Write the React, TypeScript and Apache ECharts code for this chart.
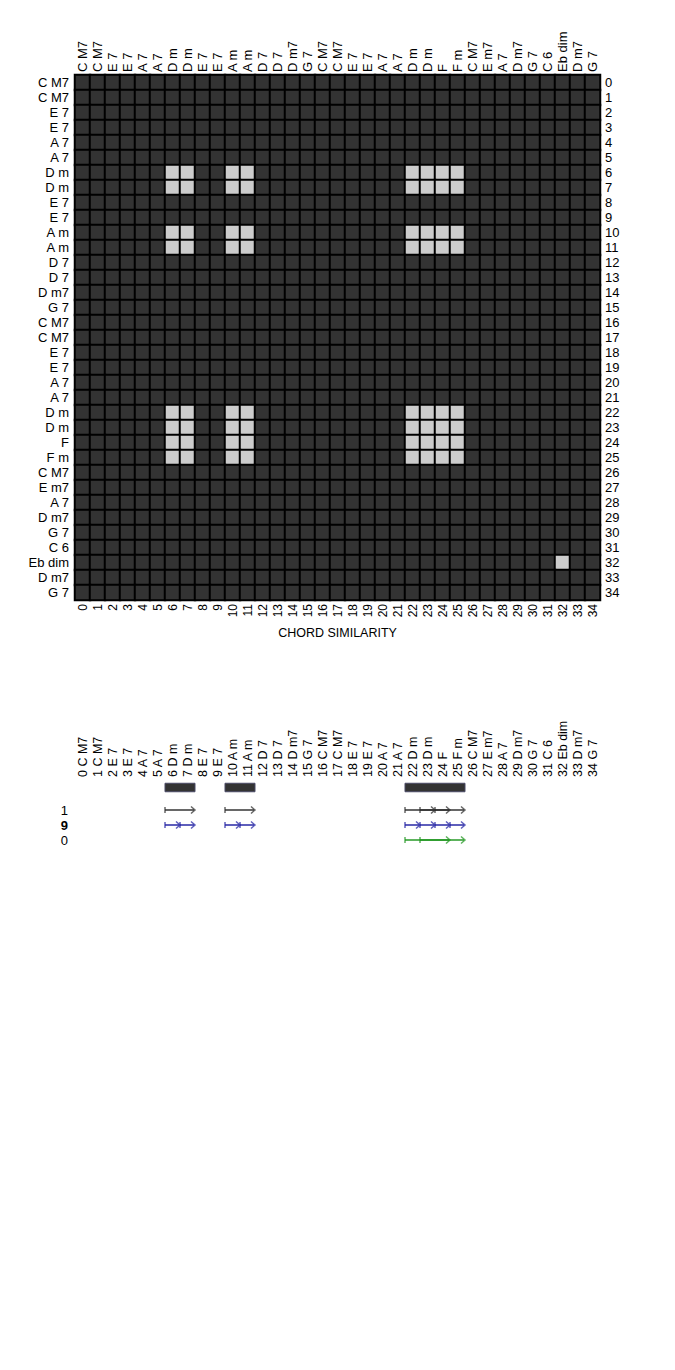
import React, { useEffect, useRef } from "react";
import * as echarts from "echarts";

// ---- data ----
const chords: string[] = [
  "C M7", "C M7", "E 7", "E 7", "A 7", "A 7", "D m", "D m", "E 7", "E 7",
  "A m", "A m", "D 7", "D 7", "D m7", "G 7", "C M7", "C M7", "E 7", "E 7",
  "A 7", "A 7", "D m", "D m", "F", "F m", "C M7", "E m7", "A 7", "D m7",
  "G 7", "C 6", "Eb dim", "D m7", "G 7",
];

const indexLabels: string[] = chords.map((_, i) => String(i));

// similarity matrix: one string per row, 1 = similar (light), 0 = not (dark)
const similarityRows: string[] = [
  "00000000000000000000000000000000000",
  "00000000000000000000000000000000000",
  "00000000000000000000000000000000000",
  "00000000000000000000000000000000000",
  "00000000000000000000000000000000000",
  "00000000000000000000000000000000000",
  "00000011001100000000001111000000000",
  "00000011001100000000001111000000000",
  "00000000000000000000000000000000000",
  "00000000000000000000000000000000000",
  "00000011001100000000001111000000000",
  "00000011001100000000001111000000000",
  "00000000000000000000000000000000000",
  "00000000000000000000000000000000000",
  "00000000000000000000000000000000000",
  "00000000000000000000000000000000000",
  "00000000000000000000000000000000000",
  "00000000000000000000000000000000000",
  "00000000000000000000000000000000000",
  "00000000000000000000000000000000000",
  "00000000000000000000000000000000000",
  "00000000000000000000000000000000000",
  "00000011001100000000001111000000000",
  "00000011001100000000001111000000000",
  "00000011001100000000001111000000000",
  "00000011001100000000001111000000000",
  "00000000000000000000000000000000000",
  "00000000000000000000000000000000000",
  "00000000000000000000000000000000000",
  "00000000000000000000000000000000000",
  "00000000000000000000000000000000000",
  "00000000000000000000000000000000000",
  "00000000000000000000000000000000100",
  "00000000000000000000000000000000000",
  "00000000000000000000000000000000000",
];

// repeated-section bars: [start, end) chord indices
const barSpans: number[][] = [[6, 8], [10, 12], [22, 26]];

// sequence rows
const rowLabels: string[] = ["1", "9", "0"];
const arrowsRow1: number[][] = [[6, 8], [10, 12], [22, 24], [23, 25], [24, 26]];
const arrowsRow9: number[][] = [[6, 7], [7, 8], [10, 11], [11, 12], [22, 23], [23, 24], [24, 25], [25, 26]];
const arrowsRow0: number[][] = [[22, 25], [23, 26]];

const FONT = "'Liberation Sans', Arial, sans-serif";
const ROW_COLORS = ["rgba(45,45,45,0.72)", "rgba(40,40,165,0.75)", "rgba(30,150,30,0.72)"];

export default function App() {
  const ref = useRef<HTMLDivElement>(null);

  useEffect(() => {
    if (!ref.current) return;
    const chart = echarts.init(ref.current, undefined, { renderer: "svg" });

    const heatData: number[][] = [];
    similarityRows.forEach((row, r) => {
      for (let c = 0; c < row.length; c++) heatData.push([c, r, row[c] === "1" ? 1 : 0]);
    });

    const arrowData: number[][] = [];
    [arrowsRow1, arrowsRow9, arrowsRow0].forEach((list, ri) => {
      list.forEach(([s, e]) => arrowData.push([s, e, ri + 2, ri]));
    });

    const barData = barSpans.map(([s, e]) => [s, e, 0.5]);

    const labelBase = { fontFamily: FONT, fontSize: 13, color: "#000" };
    const noAxis = {
      axisLine: { show: false }, axisTick: { show: false }, splitLine: { show: false },
    };

    const option: any = {
      animation: false,
      textStyle: { fontFamily: FONT },
      title: {
        text: "CHORD SIMILARITY",
        left: "center",
        top: 621,
        textStyle: { fontSize: 12.5, fontWeight: "normal", color: "#000", fontFamily: FONT },
      },
      grid: [
        { left: 75, top: 75, width: 525, height: 525 },
        { left: 75, top: 780, width: 525, height: 75 },
      ],
      xAxis: [
        {
          gridIndex: 0, type: "category", data: indexLabels, position: "bottom", ...noAxis,
          axisLabel: { ...labelBase, fontSize: 12, rotate: 90, margin: 4, interval: 0, align: "right", verticalAlign: "middle" },
        },
        {
          gridIndex: 0, type: "category", data: chords, position: "top", ...noAxis,
          axisLabel: { ...labelBase, rotate: -90, margin: 3, interval: 0, align: "left", verticalAlign: "middle" },
        },
        {
          gridIndex: 1, type: "category", data: chords.map((c, i) => i + " " + c), position: "top", ...noAxis,
          axisLabel: { ...labelBase, fontSize: 12.5, rotate: 90, margin: 3, interval: 0, align: "left", verticalAlign: "middle" },
        },
        { gridIndex: 1, type: "value", min: 0, max: 35, show: false },
      ],
      yAxis: [
        {
          gridIndex: 0, type: "category", data: chords, inverse: true, position: "left", ...noAxis,
          axisLabel: { ...labelBase, margin: 6, interval: 0 },
        },
        {
          gridIndex: 0, type: "category", data: indexLabels, inverse: true, position: "right", ...noAxis,
          axisLabel: { ...labelBase, margin: 5, interval: 0 },
        },
        {
          gridIndex: 1, type: "value", min: 0, max: 5, interval: 1, inverse: true, position: "left", ...noAxis,
          axisLabel: {
            ...labelBase, margin: 7,
            formatter: (v: number) => {
              const l = rowLabels[v - 2];
              if (l === undefined) return "";
              return v === 3 ? "{b|" + l + "}" : l;
            },
            rich: { b: { fontFamily: FONT, fontSize: 13, fontWeight: "bold", color: "#000" } },
          },
        },
      ],
      visualMap: {
        show: false, type: "piecewise", seriesIndex: 0, dimension: 2,
        pieces: [{ value: 0, color: "#333333" }, { value: 1, color: "#cccccc" }],
      },
      series: [
        {
          type: "heatmap", xAxisIndex: 0, yAxisIndex: 0, data: heatData,
          itemStyle: { borderColor: "#000", borderWidth: 2 },
          emphasis: { disabled: true },
        },
        {
          type: "custom", xAxisIndex: 3, yAxisIndex: 2, data: barData,
          encode: { x: [0, 1], y: 2 },
          renderItem: (params: any, api: any) => {
            const p0 = api.coord([api.value(0), api.value(2)]);
            const p1 = api.coord([api.value(1), api.value(2)]);
            return {
              type: "rect",
              shape: { x: p0[0], y: p0[1] - 4.25, width: p1[0] - p0[0], height: 8.5 },
              style: { fill: "#333333", stroke: "#4a4a66", lineWidth: 1 },
            };
          },
        },
        {
          type: "custom", xAxisIndex: 3, yAxisIndex: 2, data: arrowData,
          encode: { x: [0, 1], y: 2 },
          renderItem: (params: any, api: any) => {
            const p0 = api.coord([api.value(0), api.value(2)]);
            const p1 = api.coord([api.value(1), api.value(2)]);
            const color = ROW_COLORS[api.value(3)];
            const st = { stroke: color, lineWidth: 2, fill: "none" };
            return {
              type: "group",
              children: [
                { type: "line", shape: { x1: p0[0], y1: p0[1], x2: p1[0] - 1, y2: p1[1] }, style: st },
                { type: "line", shape: { x1: p0[0], y1: p0[1] - 3, x2: p0[0], y2: p0[1] + 3 }, style: { stroke: color, lineWidth: 1.5 } },
                {
                  type: "polyline",
                  shape: { points: [[p1[0] - 4, p1[1] - 3.5], [p1[0], p1[1]], [p1[0] - 4, p1[1] + 3.5]] },
                  style: { stroke: color, lineWidth: 1.5, fill: "none" },
                },
              ],
            };
          },
        },
      ],
    };

    chart.setOption(option);
    return () => chart.dispose();
  }, []);

  return (
    <div
      ref={ref}
      style={{ position: "absolute", left: 0, top: 0, width: 675, height: 1370, background: "#fff" }}
    />
  );
}
